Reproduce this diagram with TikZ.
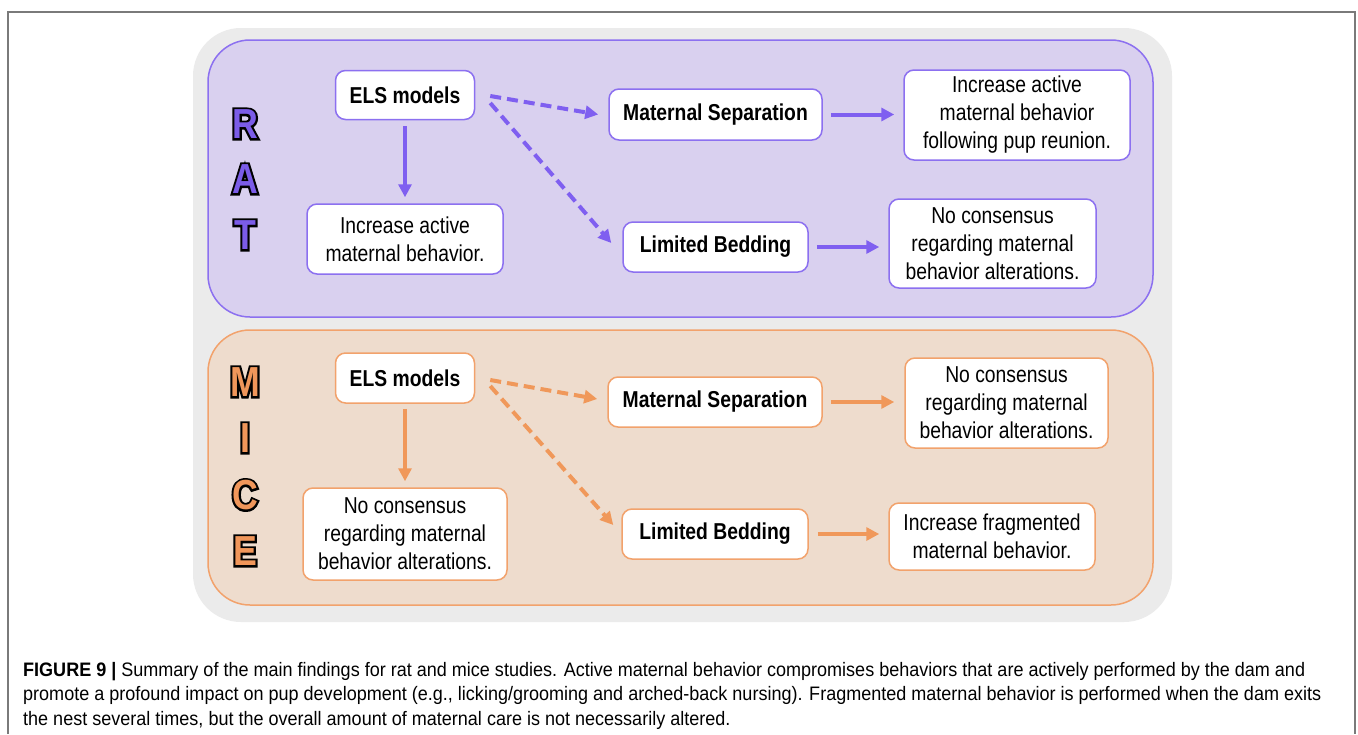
\documentclass[tikz,border=0pt]{standalone}
\usepackage{fontspec}
\usetikzlibrary{arrows.meta,calc}
\newfontfamily\nf[FakeStretch=0.84]{Liberation Sans}
\newfontfamily\lf[FakeStretch=0.85]{Liberation Sans}
\newfontfamily\capf{Liberation Sans}
\definecolor{framegray}{HTML}{7A7A7A}
\definecolor{bggray}{HTML}{EBEBEB}
\definecolor{ratfill}{HTML}{D9D0EF}
\definecolor{ratborder}{HTML}{8C70F0}
\definecolor{ratarrow}{HTML}{7F5FF0}
\definecolor{ratletter}{HTML}{7B5CE8}
\definecolor{micefill}{HTML}{EEDCCD}
\definecolor{miceborder}{HTML}{F2A26C}
\definecolor{micearrow}{HTML}{F0985A}
\definecolor{miceletter}{HTML}{F0965A}
\definecolor{captext}{HTML}{1E1E1E}
% outlined letter: black stroke drawn first (wide), coloured fill on top
\newcommand\outlined[2]{\makebox[0pt][l]{\special{pdf:literal direct 0 0 0 RG 0 0 0 rg 2 Tr 4.2 w}#2\special{pdf:literal direct 0 Tr 0.4 w}}\textcolor{#1}{#2}}
\newsavebox\capboxA
\newsavebox\capboxB
\newsavebox\capboxC
\begin{document}
\sbox\capboxA{\capf\fontsize{19.5}{24}\selectfont\textbf{FIGURE 9 |} Summary of the main findings for rat and mice studies. Active maternal behavior compromises behaviors that are actively performed by the dam and}%
\sbox\capboxB{\capf\fontsize{19.5}{24}\selectfont promote a profound impact on pup development (e.g., licking/grooming and arched-back nursing). Fragmented maternal behavior is performed when the dam exits}%
\sbox\capboxC{\capf\fontsize{19.5}{24}\selectfont the nest several times, but the overall amount of maternal care is not necessarily altered.}%
\begin{tikzpicture}[x=1pt,y=-1pt,
  box/.style={draw, fill=white, rounded corners=10pt, line width=1.5pt, align=center,
    inner sep=0pt, text=black, font=\nf\fontsize{23}{28}\selectfont},
  bbox/.style={box, font=\nf\bfseries\fontsize{23}{28}\selectfont},
  letter/.style={inner sep=0pt, font=\lf\bfseries\fontsize{42}{42}\selectfont},
  solidarrow/.style={line width=4pt, -{Triangle[length=13pt,width=13pt]}},
  dasharrow/.style={line width=4pt, dash pattern=on 11pt off 6pt, -{Triangle[length=13pt,width=13pt]}},
  caption/.style={anchor=base west, inner sep=0pt, text=captext}
]
\useasboundingbox (0,0) rectangle (1358,734);
\fill[white] (0,0) rectangle (1358,734);
\draw[framegray, line width=1.5pt] (8,734) -- (8,12) -- (1355,12) -- (1355,734);
\fill[bggray, rounded corners=48pt] (193,28) rectangle (1172,622);
\draw[ratborder, fill=ratfill, line width=1.5pt, rounded corners=42pt] (208,40) rectangle (1153,317);
\draw[miceborder, fill=micefill, line width=1.5pt, rounded corners=42pt] (208,330) rectangle (1153,605);

% RAT letters
\node[letter] (lR) at (245,124) {\outlined{ratletter}{R}};
\node[letter] (lA) at (245,179) {\outlined{ratletter}{A}};
\node[letter] (lT) at (245,235) {\outlined{ratletter}{T}};
% MICE letters
\node[letter] (lM) at (245,382) {\outlined{miceletter}{M}};
\node[letter] (lI) at (245,438) {\outlined{miceletter}{I}};
\node[letter] (lC) at (245,495) {\outlined{miceletter}{C}};
\node[letter] (lE) at (245,551) {\outlined{miceletter}{E}};

% RAT nodes
\node[bbox, draw=ratborder, minimum width=139pt, minimum height=49pt] (rels) at (405,95) {ELS models};
\node[box, draw=ratborder, minimum width=196pt, minimum height=70pt] (rinc) at (405,239) {Increase active\\maternal behavior.};
\node[bbox, draw=ratborder, minimum width=213pt, minimum height=51pt] (rms) at (715.5,114.5) {Maternal Separation};
\node[bbox, draw=ratborder, minimum width=185pt, minimum height=50pt] (rlb) at (715.5,247) {Limited Bedding};
\node[box, draw=ratborder, minimum width=226pt, minimum height=90pt] (rr1) at (1017,115) {Increase active\\maternal behavior\\following pup reunion.};
\node[box, draw=ratborder, minimum width=207pt, minimum height=89pt] (rr2) at (992.5,243.5) {No consensus\\regarding maternal\\behavior alterations.};

% MICE nodes
\node[bbox, draw=miceborder, minimum width=139pt, minimum height=50pt] (mels) at (405,378) {ELS models};
\node[box, draw=miceborder, minimum width=204pt, minimum height=92pt] (mnc) at (405,534) {No consensus\\regarding maternal\\behavior alterations.};
\node[bbox, draw=miceborder, minimum width=214pt, minimum height=50pt] (mms) at (715,402) {Maternal Separation};
\node[bbox, draw=miceborder, minimum width=186pt, minimum height=50pt] (mlb) at (715,534) {Limited Bedding};
\node[box, draw=miceborder, minimum width=203pt, minimum height=90pt] (mr1) at (1006.5,403) {No consensus\\regarding maternal\\behavior alterations.};
\node[box, draw=miceborder, minimum width=206pt, minimum height=67pt] (mr2) at (992,536.5) {Increase fragmented\\maternal behavior.};

% RAT arrows
\draw[solidarrow, ratarrow, shorten <=6pt, shorten >=6pt] (rels.south) -- (rinc.north);
\draw[dasharrow, ratarrow] ($(rels.east)+(15,1)$) -- ($(rms.west)+(-10,0)$);
\draw[dasharrow, ratarrow] ($(rels.east)+(15,8)$) -- ($(rlb.west)+(-11,-4)$);
\draw[solidarrow, ratarrow, shorten <=8pt, shorten >=9pt] (rms.east) -- (rms.east -| rr1.west);
\draw[solidarrow, ratarrow, shorten <=8pt, shorten >=9pt] (rlb.east) -- (rlb.east -| rr2.west);

% MICE arrows
\draw[solidarrow, micearrow, shorten <=5pt, shorten >=6pt] (mels.south) -- (mnc.north);
\draw[dasharrow, micearrow] ($(mels.east)+(15,2)$) -- ($(mms.west)+(-10,-3)$);
\draw[dasharrow, micearrow] ($(mels.east)+(15,8)$) -- ($(mlb.west)+(-8,-9)$);
\draw[solidarrow, micearrow, shorten <=8pt, shorten >=10pt] (mms.east) -- (mms.east -| mr1.west);
\draw[solidarrow, micearrow, shorten <=9pt, shorten >=9pt] (mlb.east) -- (mlb.east -| mr2.west);

% Caption
\pgfmathsetmacro\capsc{1282/\wd\capboxA}
\node[caption] (cap1) at (23,676) {\scalebox{\capsc}[1]{\usebox\capboxA}};
\node[caption] (cap2) at (23,700.5) {\scalebox{\capsc}[1]{\usebox\capboxB}};
\node[caption] (cap3) at (23,725) {\scalebox{\capsc}[1]{\usebox\capboxC}};
\end{tikzpicture}
\end{document}
